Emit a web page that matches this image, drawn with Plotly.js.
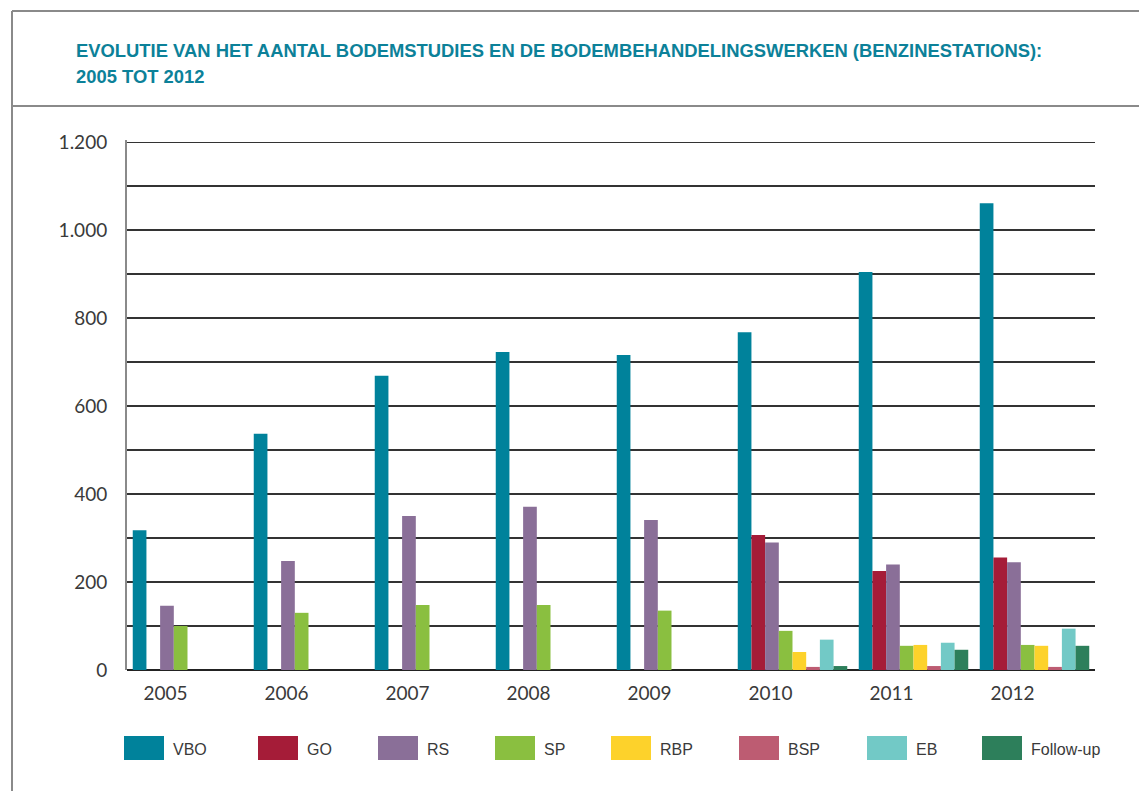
<!DOCTYPE html>
<html>
<head>
<meta charset="utf-8">
<script src="https://cdn.plot.ly/plotly-3.0.1.min.js"></script>
<style>
  html, body { margin: 0; padding: 0; background: #fff; }
  #chart { width: 1139px; height: 791px; }
</style>
</head>
<body>
<div id="chart"></div>
<script>
// ---- data ----
var years = ['2005', '2006', '2007', '2008', '2009', '2010', '2011', '2012'];
var seriesNames = ['VBO', 'GO', 'RS', 'SP', 'RBP', 'BSP', 'EB', 'Follow-up'];
var VBO      = [318, 537, 669, 723, 716, 768, 905, 1061];
var GO       = [null, null, null, null, null, 307, 225, 256];
var RS       = [146, 248, 350, 371, 341, 290, 240, 245];
var SP       = [100, 130, 148, 148, 135, 89, 55, 57];
var RBP      = [null, null, null, null, null, 41, 57, 55];
var BSP      = [null, null, null, null, null, 7, 9, 7];
var EB       = [null, null, null, null, null, 69, 62, 94];
var FollowUp = [null, null, null, null, null, 9, 46, 55];
var seriesValues = [VBO, GO, RS, SP, RBP, BSP, EB, FollowUp];
var seriesColors = ['#00829b', '#a51c38', '#8a6f98', '#8abf40', '#fdd22b', '#bd5c72', '#72c9c6', '#2d7f5b'];
var titleLines = ['EVOLUTIE VAN HET AANTAL BODEMSTUDIES EN DE BODEMBEHANDELINGSWERKEN (BENZINESTATIONS):', '2005 TOT 2012'];

// ---- geometry (pixels of the 1139x791 page) ----
var W = 1139, H = 791;
var plotL = 127, plotR = 1095, plotT = 140, plotB = 670;
var pw = plotR - plotL, ph = plotB - plotT;
function px(x) { return (x - plotL) / pw; }
function py(y) { return (plotB - y) / ph; }
var legendX = [124, 258, 378, 495, 611, 739, 867, 982];

var traces = seriesNames.map(function (name, i) {
  return {
    type: 'bar',
    name: name,
    x: years,
    y: seriesValues[i],
    marker: { color: seriesColors[i], line: { width: 0 } },
    hoverinfo: 'skip',
    showlegend: false
  };
});

var shapes = [
  // frame lines
  { type: 'line', xref: 'paper', yref: 'paper', x0: px(12), x1: px(12), y0: py(11), y1: py(H + 5), line: { color: '#8a8a8a', width: 2 } },
  { type: 'line', xref: 'paper', yref: 'paper', x0: px(12), x1: px(W + 5), y0: py(11), y1: py(11), line: { color: '#8a8a8a', width: 2 } },
  { type: 'line', xref: 'paper', yref: 'paper', x0: px(12), x1: px(W + 5), y0: py(106), y1: py(106), line: { color: '#8a8a8a', width: 2 } }
];
var annotations = [];
titleLines.forEach(function (t, i) {
  annotations.push({
    text: t, xref: 'paper', yref: 'paper', x: px(74), y: py(51 + 26 * i),
    xanchor: 'left', yanchor: 'middle', showarrow: false,
    font: { family: 'Liberation Sans, Arial, sans-serif', size: 18.4, color: '#0c8199', weight: 'bold' }
  });
});
// custom legend
seriesNames.forEach(function (name, i) {
  shapes.push({
    type: 'rect', xref: 'paper', yref: 'paper',
    x0: px(legendX[i]), x1: px(legendX[i] + 40), y0: py(736), y1: py(760),
    fillcolor: seriesColors[i], line: { width: 0 }
  });
  annotations.push({
    text: name, xref: 'paper', yref: 'paper', x: px(legendX[i] + 47), y: py(749),
    xanchor: 'left', yanchor: 'middle', showarrow: false,
    font: { family: 'Liberation Sans, Arial, sans-serif', size: 16, color: '#3a3a3a' }
  });
});

var layout = {
  width: W, height: H,
  margin: { l: plotL, r: W - plotR, t: plotT, b: H - plotB, pad: 0 },
  paper_bgcolor: '#fff', plot_bgcolor: '#fff',
  separators: ',.',
  barmode: 'group',
  bargap: 0.095,
  bargroupgap: 0,
  showlegend: false,
  xaxis: {
    type: 'category',
    showgrid: false, zeroline: false,
    showline: false,
    ticks: '',
    ticklabelshift: -22,
    ticklabelstandoff: 10,
    tickfont: { family: 'Lato, sans-serif', size: 19, color: '#3a3a3a' }
  },
  yaxis: {
    range: [0, 1205],
    tick0: 0, dtick: 200,
    tickformat: ',d',
    showgrid: true, gridcolor: '#333', gridwidth: 1.4,
    minor: { dtick: 100, showgrid: true, gridcolor: '#333', gridwidth: 1.4 },
    zeroline: true, zerolinecolor: '#222', zerolinewidth: 2,
    showline: true, linecolor: '#8a8a8a', linewidth: 2,
    ticks: '',
    ticklabelstandoff: 14,
    tickfont: { family: 'Lato, sans-serif', size: 19, color: '#3a3a3a' }
  },
  shapes: shapes,
  annotations: annotations
};

Plotly.newPlot('chart', traces, layout, { staticPlot: true, displayModeBar: false });
</script>
</body>
</html>
